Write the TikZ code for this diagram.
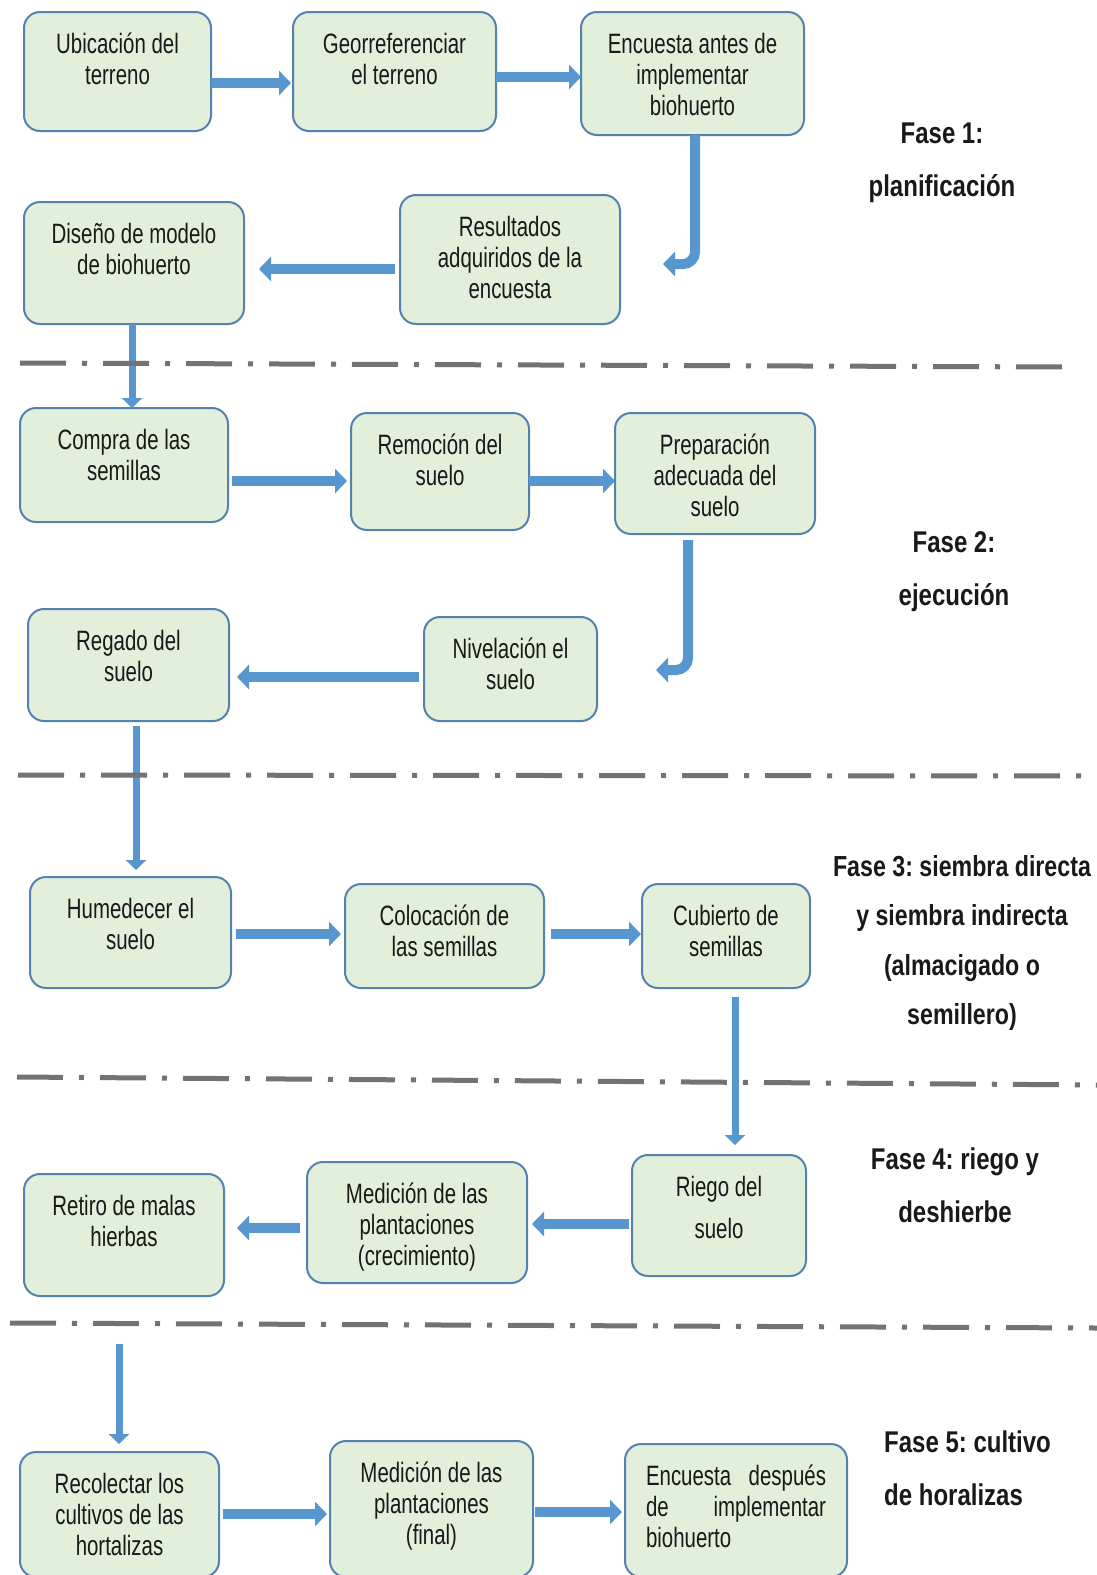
\documentclass[tikz,border=0pt]{standalone}
\usepackage{fontspec}
\setmainfont{Liberation Sans}
\newfontfamily\boxfont{Liberation Sans}[FakeStretch=0.73]
\newfontfamily\phasefont{Liberation Sans Bold}[FakeStretch=0.80]
\usetikzlibrary{arrows.meta}
\frenchspacing
\definecolor{boxfill}{RGB}{226,239,218}
\definecolor{boxline}{RGB}{84,130,175}
\definecolor{arrowblue}{RGB}{88,150,208}
\definecolor{sepgray}{RGB}{115,115,115}
\definecolor{txt}{RGB}{25,25,25}
\tikzset{
 stepbox/.style={draw=boxline, fill=boxfill, line width=2pt, rounded corners=16pt, inner sep=0pt, outer sep=0pt, text=txt, font=\boxfont\fontsize{28pt}{31pt}\selectfont},
 barrow/.style={draw=arrowblue, line width=10pt, -{Triangle[length=12pt,width=24pt]}},
 thinarrow/.style={draw=arrowblue, line width=7pt, -{Triangle[length=10pt,width=20pt]}},
 sepline/.style={draw=sepgray, line width=5pt, dash pattern=on 46pt off 16pt on 5pt off 16pt},
 phase/.style={font=\phasefont\fontsize{30pt}{53pt}\selectfont\frenchspacing, text=txt, align=center, inner sep=0pt},
}
\newcommand{\mybox}[6]{%
 \pgfmathsetmacro{\mbw}{#4-#2}\pgfmathsetmacro{\mbh}{#5-#3}%
 \pgfmathsetmacro{\mbx}{(#2+#4)/2}\pgfmathsetmacro{\mby}{(#3+#5)/2}%
 \pgfmathsetmacro{\mtw}{#4-#2-12}%
 \node[stepbox, minimum width=\mbw pt, minimum height=\mbh pt] (#1) at (\mbx,\mby)
   {\parbox[c][\mbh pt][t]{\mtw pt}{\centering\rule{0pt}{41pt}#6}};}
\begin{document}
\begin{tikzpicture}[x=1pt,y={(0pt,-1pt)}]
\fill[white] (0,0) rectangle (1097,1575);
\useasboundingbox (0,0) rectangle (1097,1575);
% boxes
\mybox{ub}{24}{12}{211}{131}{Ubicación del\\terreno}
\mybox{geo}{293}{12}{496}{131}{Georreferenciar\\el terreno}
\mybox{enca}{581}{12}{804}{135}{Encuesta antes de\\implementar\\biohuerto}
\mybox{dis}{24}{202}{244}{324}{Diseño de modelo\\de biohuerto}
\mybox{res}{400}{195}{620}{324}{Resultados\\adquiridos de la\\encuesta}
\mybox{com}{20}{408}{228}{522}{Compra de las\\semillas}
\mybox{rem}{351}{413}{529}{530}{Remoción del\\suelo}
\mybox{pre}{615}{413}{815}{534}{Preparación\\adecuada del\\suelo}
\mybox{reg}{28}{609}{229}{721}{Regado del\\suelo}
\mybox{niv}{424}{617}{597}{721}{Nivelación el\\suelo}
\mybox{hum}{30}{877}{231}{988}{Humedecer el\\suelo}
\mybox{col}{345}{884}{544}{988}{Colocación de\\las semillas}
\mybox{cub}{642}{884}{810}{988}{Cubierto de\\semillas}
\mybox{rie}{632}{1155}{806}{1276}{Riego del\\[11pt]suelo}
\mybox{medc}{307}{1162}{527}{1283}{Medición de las\\plantaciones\\(crecimiento)}
\mybox{ret}{24}{1174}{224}{1296}{Retiro de malas\\hierbas}
\mybox{rec}{20}{1452}{219}{1577}{Recolectar los\\cultivos de las\\hortalizas}
\mybox{medf}{330}{1441}{533}{1577}{Medición de las\\plantaciones\\(final)}
\mybox{encd}{625}{1444}{847}{1577}{\makebox[180pt][s]{Encuesta\hfill después}\\\makebox[180pt][s]{de\hfill implementar}\\\makebox[180pt][l]{biohuerto}}
% phase labels
\node[phase] (p1) at (942,163) {Fase 1:\\planificación};
\node[phase] (p2) at (954,572) {Fase 2:\\ejecución};
\node[phase, font=\phasefont\fontsize{29pt}{49.5pt}\selectfont\frenchspacing] (p3) at (962,943) {Fase 3: siembra directa\\y siembra indirecta\\(almacigado o\\semillero)};
\node[phase] (p4) at (955,1185) {Fase 4: riego y\\deshierbe};
\node[phase, align=left, anchor=west] (p5) at (884,1468) {Fase 5: cultivo\\de horalizas};
% arrows
\coordinate (c1) at (663,264);
\coordinate (c2) at (656,670);
\draw[barrow, shorten >=2pt] (ub.east |- 0,83) -- (geo.west |- 0,83);
\draw[barrow] (geo.east |- 0,77) -- (enca.west |- 0,77);
\draw[barrow, rounded corners=12pt] (695,0 |- enca.south) -- (695,264) -- (c1);
\draw[barrow, shorten <=5pt, shorten >=15pt] (res.west |- 0,269) -- (dis.east |- 0,269);
\draw[thinarrow] (132,0 |- dis.south) -- (132,0 |- com.north);
\draw[barrow, shorten <=4pt, shorten >=4pt] (com.east |- 0,481) -- (rem.west |- 0,481);
\draw[barrow] (rem.east |- 0,481) -- (pre.west |- 0,481);
\draw[barrow, rounded corners=12pt, shorten <=6pt] (688,0 |- pre.south) -- (688,670) -- (c2);
\draw[barrow, shorten <=5pt, shorten >=8pt] (niv.west |- 0,677) -- (reg.east |- 0,677);
\draw[thinarrow, shorten <=5pt, shorten >=7pt] (136,0 |- reg.south) -- (136,0 |- hum.north);
\draw[barrow, shorten <=5pt, shorten >=4pt] (hum.east |- 0,934) -- (col.west |- 0,934);
\draw[barrow, shorten <=7pt, shorten >=1pt] (col.east |- 0,934) -- (cub.west |- 0,934);
\draw[thinarrow, shorten <=9pt, shorten >=10pt] (735,0 |- cub.south) -- (735,0 |- rie.north);
\draw[barrow, shorten <=3pt, shorten >=5pt] (rie.west |- 0,1224) -- (medc.east |- 0,1224);
\draw[barrow, shorten <=7pt, shorten >=13pt] (medc.west |- 0,1228) -- (ret.east |- 0,1228);
\draw[thinarrow, shorten <=48pt, shorten >=8pt] (119,0 |- ret.south) -- (119,0 |- rec.north);
\draw[barrow, shorten <=4pt, shorten >=3pt] (rec.east |- 0,1514) -- (medf.west |- 0,1514);
\draw[barrow, shorten <=2pt, shorten >=3pt] (medf.east |- 0,1512) -- (encd.west |- 0,1512);
% separators
\draw[sepline] (20,363) -- (1065,367);
\draw[sepline] (18,775) -- (1097,776);
\draw[sepline] (17,1077) -- (1097,1085);
\draw[sepline] (10,1323) -- (1097,1328);
\end{tikzpicture}
\end{document}
